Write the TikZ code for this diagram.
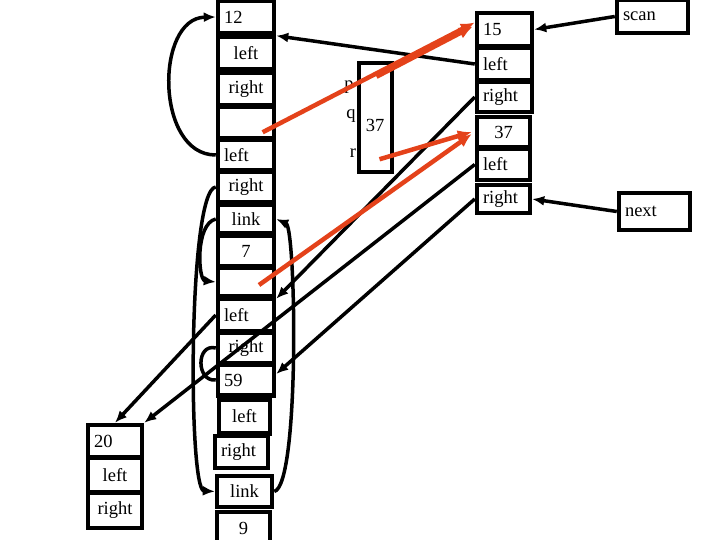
\documentclass[tikz,border=0pt]{standalone}
\usepackage{fontspec}
\setmainfont{Liberation Serif}
\usetikzlibrary{arrows.meta,calc}
\definecolor{redline}{RGB}{228,66,26}
\begin{document}
\begin{tikzpicture}[x=1pt,y=-1pt,
  cell/.style={draw, line width=4.5pt, inner xsep=6pt, inner ysep=0pt, fill=white,
               font=\fontsize{18.5}{20}\selectfont},
  lc/.style={cell, text width=44pt},
  rc/.style={cell, text width=43pt},
  tl/.style={align=left},
  tc/.style={align=center},
  lbl/.style={inner sep=0pt, font=\fontsize{18.5}{20}\selectfont},
  arr/.style={line width=3.5pt, -{Latex[length=12pt,width=10pt]}},
  plain/.style={line width=3.5pt},
  rarr/.style={draw=redline, line width=4.5pt, -{Latex[length=14pt,width=12pt]}}
]
\useasboundingbox (0,0) rectangle (720,540);

% left column
\node[lc,tl,minimum height=33pt] (L1) at (246,17) {12};
\node[lc,tc,minimum height=33pt] (L2) at (246,53) {left};
\node[lc,tc,minimum height=33pt] (L3) at (246,89) {right};
\node[lc,tc,minimum height=31pt] (L4) at (246,122.5) {};
\node[lc,tl,minimum height=30pt] (L5) at (246,155) {left};
\node[lc,tc,minimum height=31pt] (L6) at (246,187) {right};
\node[lc,tc,minimum height=29pt] (L7) at (246,219) {link};
\node[lc,tc,minimum height=31pt] (L8) at (246,251) {7};
\node[lc,tc,minimum height=29pt] (L9) at (246,282) {};
\node[lc,tl,minimum height=32pt] (L10) at (246,315) {left};
\node[lc,tc,minimum height=30pt] (L11) at (246,348) {right};
\node[lc,tl,minimum height=31pt] (L12) at (246,380) {59};
\node[cell,text width=39pt,tc,minimum height=34pt] (L13) at (244.5,416.5) {left};
\node[cell,text width=41pt,tl,minimum height=32pt] (L14) at (241.5,452) {right};
\node[cell,text width=43pt,tc,minimum height=31pt] (L15) at (244.5,491.5) {link};
\node[cell,text width=41pt,tc,minimum height=32pt] (L16) at (243.5,528) {9};

% right column
\node[rc,tl,minimum height=33pt] (R1) at (504.5,29.5) {15};
\node[rc,tl,minimum height=32pt] (R2) at (504.5,64) {left};
\node[rc,tl,minimum height=30pt] (R3) at (504.5,97) {right};
\node[cell,text width=41pt,tc,minimum height=30pt] (R4) at (503.5,132) {37};
\node[cell,text width=41pt,tl,minimum height=31pt] (R5) at (503.5,164.5) {left};
\node[cell,text width=41pt,tl,minimum height=28pt] (R6) at (503.5,199) {right};

% scan / next
\node[cell,text width=59pt,tl,minimum height=33pt] (scan) at (652.5,16.5) {scan};
\node[cell,text width=59pt,tl,minimum height=37pt] (next) at (654.5,211.5) {next};

% 20 box
\node[cell,text width=42pt,tl,minimum height=32pt] (N20) at (115,441) {20};
\node[cell,text width=42pt,tc,minimum height=34pt] (N20l) at (115,475) {left};
\node[cell,text width=42pt,tc,minimum height=35pt] (N20r) at (115,510.5) {right};

% p q r box
\node[lbl] (lp) at (349,87) {p};
\node[lbl] (lq) at (351,116) {q};
\node[lbl] (lr) at (353,153) {r};
\node[draw, line width=4.5pt, minimum width=33pt, minimum height=109pt, inner sep=0pt] (pqr) at (375.5,117.5) {};
\node[lbl] (pqr37) at (375,125) {37};

% black connectors
\draw[arr] (L5.west) .. controls (155,155) and (155,18) .. (L1.west);
\draw[arr] (R2.west) -- (L1.south east);
\draw[arr] (scan.west) -- (R1.east);
\draw[arr] (next.west) -- (R6.east);
\draw[arr] (R3.west) -- (L9.south east);
\draw[arr] (R5.west) -- (N20.north east);
\draw[arr] (L10.west) -- (N20.north);
\draw[arr] (R6.west) -- ($(L12.east)+(0,-6)$);

\draw[arr] (L6.west) .. controls (188,190) and (188,490) .. (L15.west);
\draw[arr] (L7.west) .. controls (195,224) and (198,280) .. (L9.west);
\draw[arr] (L15.east) .. controls (300,485) and (296,228) .. (L7.east);
\draw[plain] (L11.west) .. controls (196,343) and (196,382) .. (L12.west);

% red connectors
\draw[rarr] ($(L4.center)!0.55!(L4.south east)$) -- ($(R1.west)+(0,-7)$);
\draw[rarr] ($(pqr.north)+(1,16)$) -- ($(R1.west)+(-2,-3)$);
\draw[rarr] ($(L9.center)+(13,3)$) -- ($(R4.west)+(-3,2)$);
\draw[rarr] ($(pqr.south)+(4,-15)$) -- ($(R4.west)+(-3,0)$);
\end{tikzpicture}
\end{document}
